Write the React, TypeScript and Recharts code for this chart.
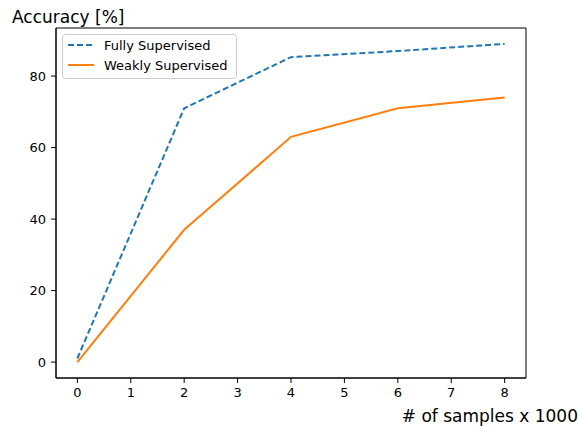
import React from "react";
import { LineChart, Line, XAxis, YAxis, ReferenceArea } from "recharts";

// samples (x 1000)
const samples = [0, 2, 4, 6, 8];
// accuracy values in %
const fullySupervised = [1, 71, 85.3, 87, 89];
const weaklySupervised = [0, 37, 63, 71, 74];

const xTicks = [0, 1, 2, 3, 4, 5, 6, 7, 8];
const yTicks = [0, 20, 40, 60, 80];

const BLUE = "#1f77b4";
const ORANGE = "#ff7f0e";
const FONT = "DejaVu Sans, sans-serif";

const data = samples.map((s, i) => ({
  x: s,
  full: fullySupervised[i],
  weak: weaklySupervised[i],
}));

const W = 580;
const H = 426;

const App: React.FC = () => {
  const tickStyle = { fontSize: 13, fill: "#000", fontFamily: FONT };
  return (
    <div style={{ position: "relative", width: W, height: H, background: "#fff" }}>
      <style>{"body{margin:0}"}</style>
      <LineChart
        width={W}
        height={H}
        data={data}
        margin={{ top: 28, right: 54, left: 0, bottom: 0 }}
      >
        <XAxis
          dataKey="x"
          type="number"
          domain={[-0.4, 8.4]}
          ticks={xTicks}
          allowDataOverflow
          height={48}
          tickSize={5}
          tickMargin={5}
          tick={tickStyle}
          stroke="#000"
          tickLine={{ stroke: "#000" }}
        />
        <YAxis
          type="number"
          domain={[-4.45, 93.45]}
          ticks={yTicks}
          allowDataOverflow
          width={56}
          tickSize={5}
          tickMargin={5}
          tick={tickStyle}
          stroke="#000"
          tickLine={{ stroke: "#000" }}
        />
        <ReferenceArea
          x1={-0.4}
          x2={8.4}
          y1={-4.45}
          y2={93.45}
          fill="none"
          fillOpacity={0}
          stroke="#000"
          strokeWidth={1}
          ifOverflow="visible"
        />
        <Line
          dataKey="full"
          stroke={BLUE}
          strokeWidth={2}
          strokeDasharray="6 3"
          dot={false}
          isAnimationActive={false}
        />
        <Line
          dataKey="weak"
          stroke={ORANGE}
          strokeWidth={2}
          dot={false}
          isAnimationActive={false}
        />
      </LineChart>
      <svg
        width={W}
        height={H}
        style={{ position: "absolute", left: 0, top: 0, pointerEvents: "none" }}
      >
        <text x={12} y={23} fontSize={17} fontFamily={FONT} fill="#000">
          Accuracy [%]
        </text>
        <text x={578} y={422} fontSize={17} fontFamily={FONT} fill="#000" textAnchor="end">
          # of samples x 1000
        </text>
        <rect x={62.5} y={34.5} width={174} height={44} rx={3} fill="#fff" fillOpacity={0.8} stroke="#ccc" />
        <line x1={68} y1={45} x2={94} y2={45} stroke={BLUE} strokeWidth={2} strokeDasharray="6 3" />
        <text x={104} y={50} fontSize={13} fontFamily={FONT} fill="#000">
          Fully Supervised
        </text>
        <line x1={68} y1={65} x2={94} y2={65} stroke={ORANGE} strokeWidth={2} />
        <text x={104} y={70} fontSize={13} fontFamily={FONT} fill="#000">
          Weakly Supervised
        </text>
      </svg>
    </div>
  );
};

export default App;
